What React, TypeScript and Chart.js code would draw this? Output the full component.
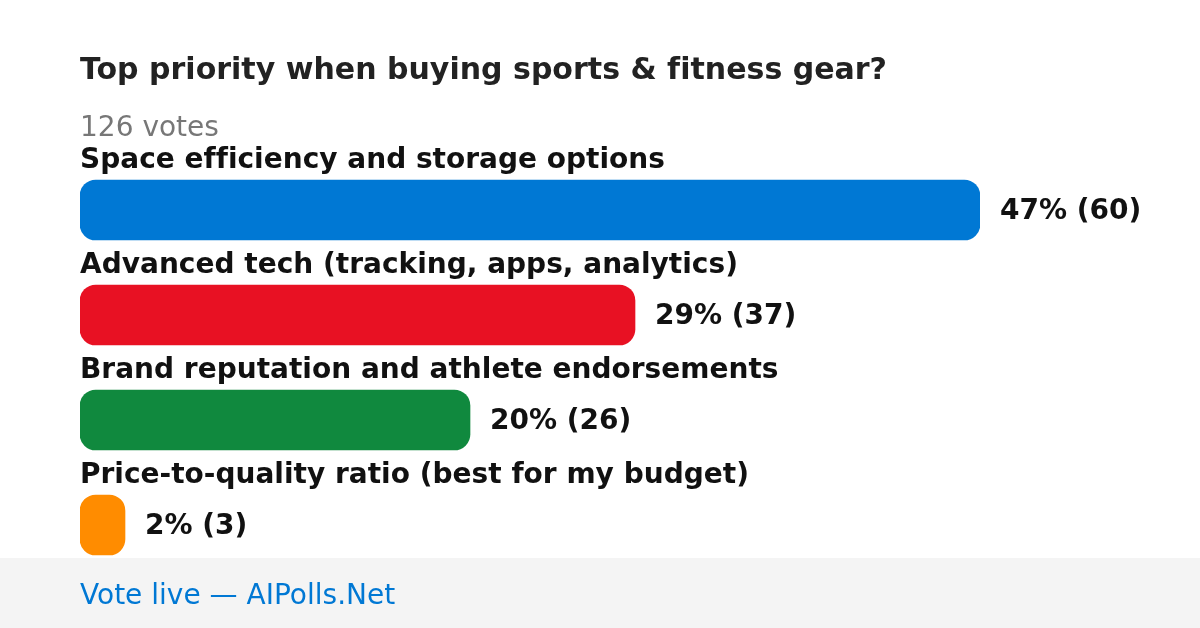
import React, { useEffect, useRef } from "react";
import { Chart, registerables } from "chart.js";

Chart.register(...registerables);

const title = "Top priority when buying sports & fitness gear?";
const totalLabel = "126 votes";
const footerText = "Vote live — AIPolls.Net";
const categories = [
  "Space efficiency and storage options",
  "Advanced tech (tracking, apps, analytics)",
  "Brand reputation and athlete endorsements",
  "Price-to-quality ratio (best for my budget)",
];
const votes = [60, 37, 26, 3];
const percents = [47, 29, 20, 2];
const colors = ["#0078d4", "#e81123", "#10893e", "#ff8c00"];

const FONT = '"DejaVu Sans", Verdana, sans-serif';

export default function App() {
  const ref = useRef<HTMLCanvasElement | null>(null);

  useEffect(() => {
    document.body.style.margin = "0";
    const canvas = ref.current;
    if (!canvas) return;

    const textPlugin = {
      id: "pollText",
      beforeDraw(chart: any) {
        const ctx = chart.ctx;
        ctx.save();
        ctx.fillStyle = "#ffffff";
        ctx.fillRect(0, 0, chart.width, chart.height);
        ctx.fillStyle = "#f4f4f4";
        ctx.fillRect(0, 558, chart.width, chart.height - 558);
        ctx.restore();
      },
      afterDatasetsDraw(chart: any) {
        const ctx = chart.ctx;
        const meta = chart.getDatasetMeta(0);
        ctx.save();
        try {
          (ctx as any).letterSpacing = "0.01px";
        } catch (e) {}
        ctx.textBaseline = "alphabetic";
        ctx.textAlign = "left";
        ctx.fillStyle = "#222222";
        ctx.font = `bold 30px ${FONT}`;
        ctx.fillText(title, 80, 79);
        ctx.fillStyle = "#777777";
        ctx.font = `28px ${FONT}`;
        ctx.fillText(totalLabel, 80, 136);
        meta.data.forEach((bar: any, i: number) => {
          ctx.fillStyle = "#111111";
          ctx.font = `bold 28px ${FONT}`;
          ctx.fillText(categories[i], 80, bar.y - 42);
          ctx.fillText(`${percents[i]}% (${votes[i]})`, bar.x + 20, bar.y + 9);
        });
        ctx.fillStyle = "#0078d4";
        ctx.font = `28px ${FONT}`;
        ctx.fillText(footerText, 80, 604);
        ctx.restore();
      },
    };

    const chart = new Chart(canvas, {
      type: "bar",
      data: {
        labels: categories,
        datasets: [
          {
            data: votes,
            backgroundColor: colors,
            borderRadius: 16,
            borderSkipped: false,
            barThickness: 60,
          },
        ],
      },
      options: {
        indexAxis: "y",
        animation: false,
        responsive: false,
        maintainAspectRatio: false,
        devicePixelRatio: 1,
        layout: { padding: { left: 80, right: 220, top: 157.5, bottom: 50.5 } },
        plugins: {
          legend: { display: false },
          tooltip: { enabled: false },
          title: { display: false },
        },
        scales: {
          x: { display: false, min: 0, max: 60 },
          y: { display: false, offset: true },
        },
      },
      plugins: [textPlugin],
    });
    return () => chart.destroy();
  }, []);

  return (
    <div style={{ position: "fixed", left: 0, top: 0, width: 1200, height: 628, fontFamily: FONT }}>
      <canvas ref={ref} width={1200} height={628} style={{ width: 1200, height: 628, display: "block" }} />
    </div>
  );
}
